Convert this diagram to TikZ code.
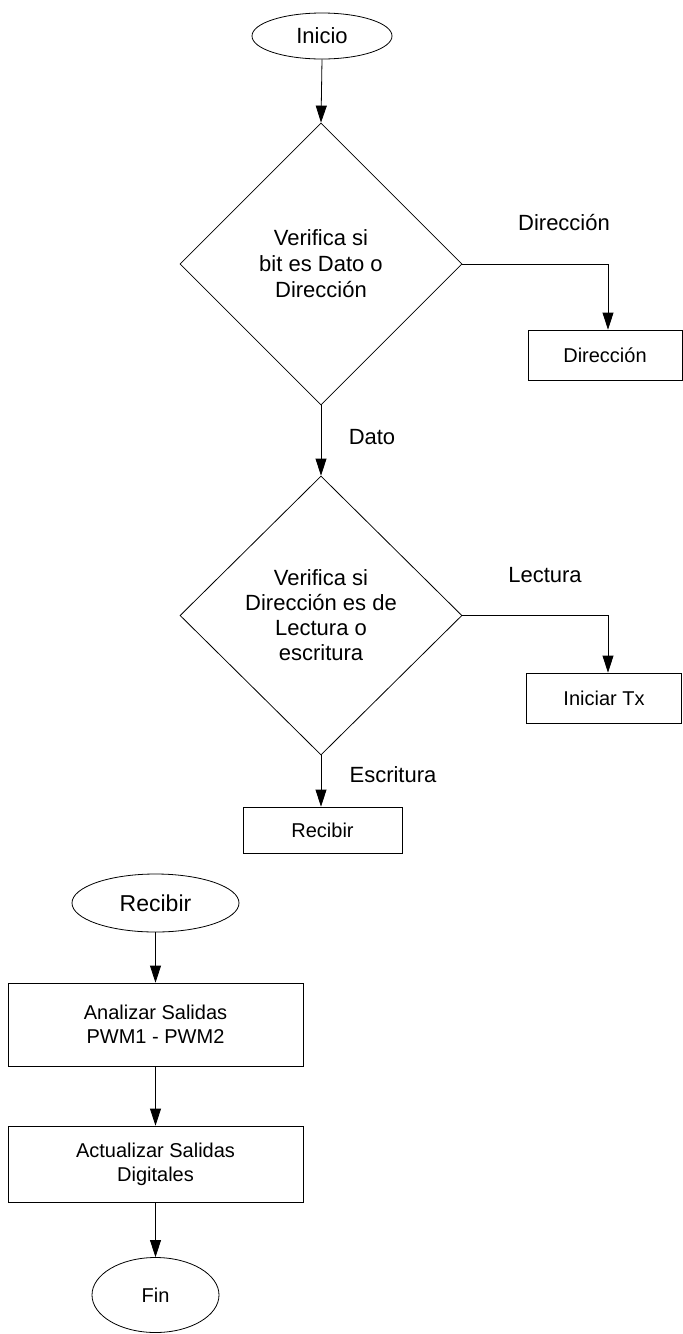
\documentclass[tikz,border=0pt]{standalone}
\usepackage{fontspec}
\setmainfont{Liberation Sans}
\usetikzlibrary{shapes.geometric,arrows.meta}
\begin{document}
\begin{tikzpicture}[x=1pt,y=-1pt,
  every node/.style={inner sep=0pt},
  flow/.style={draw=black,line width=0.8pt},
  arr/.style={flow,-{Triangle[width=11pt,length=17pt]}},
  term/.style={ellipse,draw,line width=0.8pt},
  decision/.style={diamond,draw,line width=0.8pt,align=center,font=\fontsize{22}{26}\selectfont},
  proc/.style={rectangle,draw,line width=0.8pt,align=center,font=\fontsize{20}{24}\selectfont},
  lbl/.style={font=\fontsize{22}{26}\selectfont}]
\useasboundingbox (0,0) rectangle (683,1334);

% first part: address / data decision
\node[term,minimum width=140pt,minimum height=46pt,font=\fontsize{22}{26}\selectfont] (inicio) at (322,36) {Inicio};
\node[decision,minimum width=282pt,minimum height=282pt] (d1) at (321,264) {Verifica si\\bit es Dato o\\Dirección};
\node[proc,minimum width=154pt,minimum height=50pt] (dir) at (605,355) {Dirección};
\node[decision,minimum width=282pt,minimum height=279pt,font=\fontsize{22}{25}\selectfont] (d2) at (321,615.5) {Verifica si\\Dirección es de\\Lectura o\\escritura};
\node[proc,minimum width=155pt,minimum height=50pt] (tx) at (604,698) {Iniciar Tx};
\node[proc,minimum width=159pt,minimum height=46pt] (rec) at (322.5,830) {Recibir};

% branch labels
\node[lbl] (ldir) at (564,223) {Dirección};
\node[lbl] (ldato) at (372,437) {Dato};
\node[lbl] (llec) at (545,575) {Lectura};
\node[lbl] (lesc) at (393,775) {Escritura};

% second part: receive routine
\node[term,minimum width=167pt,minimum height=58pt,font=\fontsize{23}{27}\selectfont] (recibir) at (155.5,903) {Recibir};
\node[proc,minimum width=295pt,minimum height=83pt] (anal) at (155.5,1024.5) {Analizar Salidas\\PWM1 - PWM2};
\node[proc,minimum width=295pt,minimum height=76pt] (act) at (155.5,1164) {Actualizar Salidas\\Digitales};
\node[term,minimum width=127pt,minimum height=75pt,font=\fontsize{20}{24}\selectfont] (fin) at (155.5,1295) {Fin};

% connectors
\draw[arr] (inicio.south) -- (d1.north);
\draw[arr] (d1.east) -| ([xshift=3pt]dir.north);
\draw[arr] (d1.south) -- (d2.north);
\draw[arr] (d2.east) -| ([xshift=4pt]tx.north);
\draw[arr] (d2.south) -- (d2.south |- rec.north);
\draw[arr] (recibir.south) -- (recibir.south |- anal.north);
\draw[arr] (anal.south) -- (act.north);
\draw[arr] (act.south) -- (fin.north);
\end{tikzpicture}
\end{document}
